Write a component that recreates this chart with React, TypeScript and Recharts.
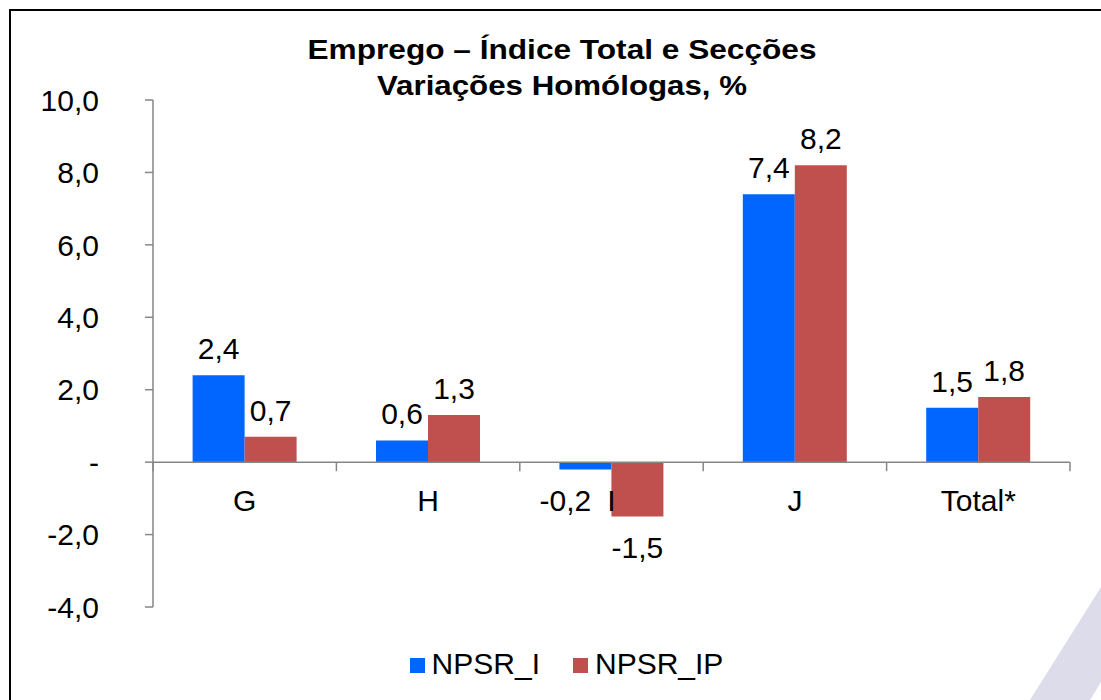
import { Bar, BarChart, LabelList, Legend, ReferenceLine, XAxis, YAxis } from "recharts";

const CATEGORIES = ["G", "H", "I", "J", "Total*"];
const NPSR_I = [2.4, 0.6, -0.2, 7.4, 1.5];
const NPSR_IP = [0.7, 1.3, -1.5, 8.2, 1.8];
const Y_TICKS = [-4, -2, 0, 2, 4, 6, 8, 10];
const TITLE_LINES = ["Emprego – Índice Total e Secções", "Variações Homólogas, %"];

const SERIES = [
  { key: "NPSR_I", color: "#0066ff" },
  { key: "NPSR_IP", color: "#c0504d" },
];

const data = CATEGORIES.map((name, i) => ({ name, NPSR_I: NPSR_I[i], NPSR_IP: NPSR_IP[i] }));

const FONT = "'Liberation Sans', Arial, Helvetica, sans-serif";
const AXIS = "#868686";
const W = 1101;
const H = 700;
const MARGIN = { top: 100, right: 31, bottom: 63, left: 33 };
const Y_AXIS_W = 120;
const X_AXIS_H = 30;
const PLOT_LEFT = MARGIN.left + Y_AXIS_W;
const PLOT_RIGHT = W - MARGIN.right;
const PLOT_TOP = MARGIN.top;
const PLOT_BOTTOM = H - MARGIN.bottom - X_AXIS_H;
const Y_MIN = -4;
const Y_MAX = 10;
const ZERO_Y = PLOT_TOP + (Y_MAX / (Y_MAX - Y_MIN)) * (PLOT_BOTTOM - PLOT_TOP);
const BAND = (PLOT_RIGHT - PLOT_LEFT) / CATEGORIES.length;

const fmt = (v: number) => (v === 0 ? "-" : v.toFixed(1).replace(".", ","));

function BarValue(props: any) {
  const { x, y, width, height, value } = props;
  const top = Math.min(Number(y), Number(y) + Number(height));
  const bottom = Math.max(Number(y), Number(y) + Number(height));
  const neg = value < 0;
  const ty = neg ? bottom + 42 : top - 16;
  // small negative bars: nudge the label left so it clears the category label
  const dx = neg && bottom - top < 20 ? -20 : 0;
  return (
    <text x={Number(x) + Number(width) / 2 + dx} y={ty} textAnchor="middle" fontSize={30} fill="#000" fontFamily={FONT}>
      {fmt(value)}
    </text>
  );
}

function CategoryTick(props: any) {
  const { x, payload, index } = props;
  const left = x - BAND / 2;
  const right = x + BAND / 2;
  return (
    <g>
      <line x1={left} x2={left} y1={ZERO_Y} y2={ZERO_Y + 9} stroke={AXIS} strokeWidth={1.5} />
      {index === CATEGORIES.length - 1 && (
        <line x1={right} x2={right} y1={ZERO_Y} y2={ZERO_Y + 9} stroke={AXIS} strokeWidth={1.5} />
      )}
      <text x={x} y={ZERO_Y + 49} textAnchor="middle" fontSize={30} fill="#000" fontFamily={FONT}>
        {payload.value}
      </text>
    </g>
  );
}

function LegendBox() {
  return (
    <div style={{ display: "flex", justifyContent: "center", alignItems: "center", height: 36, fontFamily: FONT }}>
      {SERIES.map((s, i) => (
        <div key={s.key} style={{ display: "flex", alignItems: "center", marginLeft: i === 0 ? 0 : 33 }}>
          <span style={{ width: 15, height: 15, background: s.color, marginRight: 7, marginTop: 3 }} />
          <span style={{ fontSize: 30, color: "#000", lineHeight: "36px" }}>{s.key}</span>
        </div>
      ))}
    </div>
  );
}

export default function App() {
  return (
    <div style={{ position: "absolute", left: 0, top: 0, width: W, height: H, overflow: "hidden", background: "#fff" }}>
      <svg width={W} height={H} style={{ position: "absolute", left: 0, top: 0 }}>
        <polygon points="1030,700 1101,587 1101,682 1090,700" fill="#dcdcea" />
      </svg>
      <div
        style={{
          position: "absolute",
          left: 9,
          top: 9,
          width: W,
          height: H,
          borderTop: "2px solid #000",
          borderLeft: "2px solid #000",
        }}
      />
      <svg width={W} height={110} style={{ position: "absolute", left: 0, top: 0 }}>
        <text x={562} y={59} textAnchor="middle" fontSize={28} fontWeight="bold" fontFamily={FONT} textLength={509} lengthAdjust="spacingAndGlyphs">
          {TITLE_LINES[0]}
        </text>
        <text x={562} y={95} textAnchor="middle" fontSize={28} fontWeight="bold" fontFamily={FONT} textLength={370} lengthAdjust="spacingAndGlyphs">
          {TITLE_LINES[1]}
        </text>
      </svg>
      <div style={{ position: "absolute", left: 0, top: 0 }}>
        <BarChart width={W} height={H} data={data} margin={MARGIN} barCategoryGap="21.6%" barGap={0}>
          <XAxis
            dataKey="name"
            height={X_AXIS_H}
            axisLine={false}
            tickLine={false}
            interval={0}
            tick={<CategoryTick />}
          />
          <YAxis
            width={Y_AXIS_W}
            domain={[Y_MIN, Y_MAX]}
            ticks={Y_TICKS}
            interval={0}
            tickFormatter={fmt}
            tickSize={8}
            tickMargin={46}
            stroke={AXIS}
            strokeWidth={1.5}
            tick={{ fill: "#000", fontSize: 30, fontFamily: FONT }}
          />
          <ReferenceLine y={0} stroke={AXIS} strokeWidth={1.5} />
          {SERIES.map((s) => (
            <Bar key={s.key} dataKey={s.key} fill={s.color} isAnimationActive={false}>
              <LabelList dataKey={s.key} content={<BarValue />} />
            </Bar>
          ))}
          <Legend
            verticalAlign="middle"
            layout="horizontal"
            wrapperStyle={{ top: 646, left: 16, width: W, height: 36 }}
            content={<LegendBox />}
          />
        </BarChart>
      </div>
    </div>
  );
}
